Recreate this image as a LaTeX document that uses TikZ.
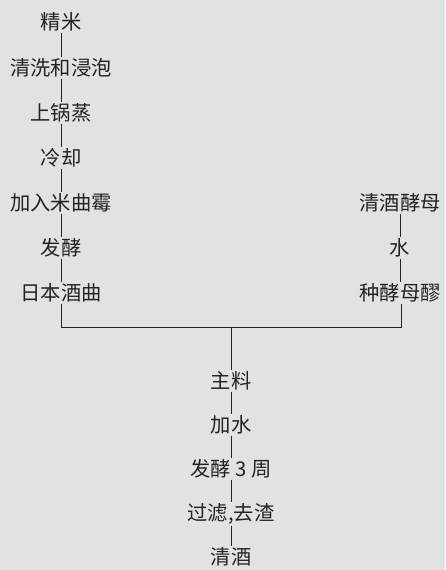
\documentclass[tikz,border=0pt]{standalone}
\usepackage{fontspec}
\newfontfamily\cjk{Noto Sans CJK SC}
\definecolor{bg}{RGB}{225,226,228}
\definecolor{ink}{RGB}{35,35,35}
\begin{document}
\begin{tikzpicture}[x=1pt,y=-1pt,
  stepnode/.style={font=\cjk\fontsize{20.3}{21}\selectfont, text=ink, inner sep=1pt},
  link/.style={draw=ink, line width=0.8pt}]
\useasboundingbox[fill=bg] (0,0) rectangle (445,570);
% left column
\node[stepnode] (a1) at (61,22) {精米};
\node[stepnode] (a2) at (61,68) {清洗和浸泡};
\node[stepnode] (a3) at (61,113) {上锅蒸};
\node[stepnode] (a4) at (61,158) {冷却};
\node[stepnode] (a5) at (61,203) {加入米曲霉};
\node[stepnode] (a6) at (61,248) {发酵};
\node[stepnode] (a7) at (61,293) {日本酒曲};
% right column
\node[stepnode] (b1) at (400,203) {清酒酵母};
\node[stepnode] (b2) at (400,248) {水};
\node[stepnode] (b3) at (400,293) {种酵母醪};
% centre column
\node[stepnode] (c1) at (231,381) {主料};
\node[stepnode] (c2) at (231,425) {加水};
\node[stepnode] (c3) at (231,469) {发酵 3 周};
\node[stepnode] (c4) at (231,514) {过滤,去渣};
\node[stepnode] (c5) at (231,557) {清酒};
\coordinate (jl) at (61,327);
\coordinate (jr) at (401,327);
\coordinate (jm) at (231,327);
\foreach \u/\v in {a1/a2,a2/a3,a3/a4,a4/a5,a5/a6,a6/a7,b1/b2,b2/b3,c1/c2,c2/c3,c3/c4,c4/c5}
  \draw[link] (\u.south) -- (\v.north);
\draw[link] (a7.south) -- (jl) -- (jr) -- (b3.south -| jr);
\draw[link] (jm) -- (c1.north);
\end{tikzpicture}
\end{document}
